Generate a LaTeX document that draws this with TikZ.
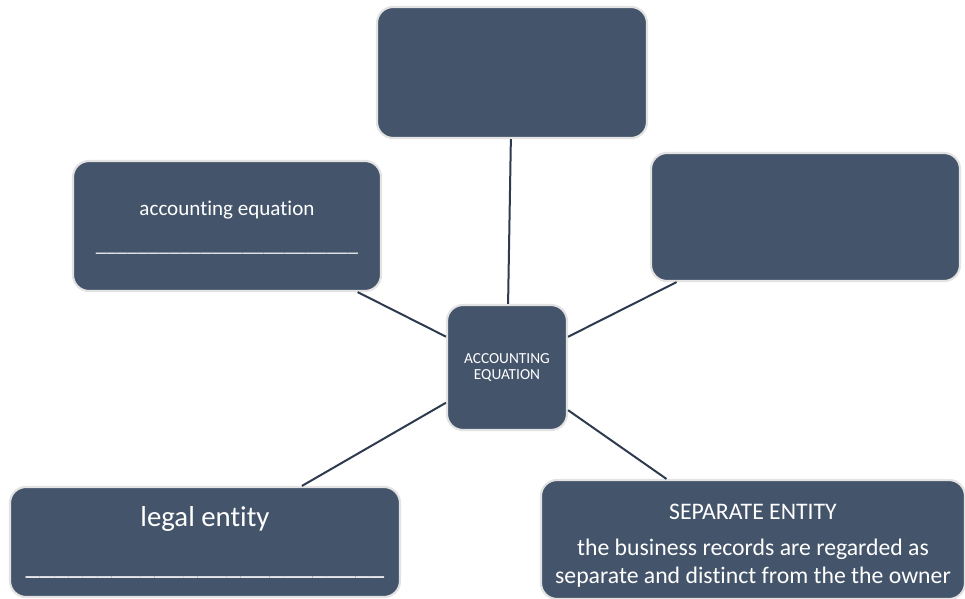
\documentclass[tikz,border=0pt]{standalone}
\usepackage{fontspec}
\setmainfont{Carlito}[Ligatures=NoCommon]
\usepackage{tikz}
\usetikzlibrary{positioning}

\definecolor{slate}{HTML}{44546A}
\definecolor{edgegray}{HTML}{E3E3E3}
\definecolor{linkdark}{HTML}{2E3A4E}

\begin{document}
\begin{tikzpicture}[
    x=0.75pt, y=-0.75pt,
    box/.style={draw=edgegray, line width=1.6pt, rounded corners=12pt,
                fill=slate, text=white, align=center, inner sep=0pt},
    link/.style={draw=linkdark, line width=1.5pt},
]
    \useasboundingbox (0,0) rectangle (965,599);

    % Hub
    \node[box, minimum width=90pt, minimum height=93.75pt,
          font=\fontsize{11.5}{12.5}\selectfont] (hub) at (507,367.5)
          {ACCOUNTING\\EQUATION};

    % Outer boxes
    \node[box, minimum width=202.5pt, minimum height=98.25pt] (top) at (512,72.5) {};
    \node[box, minimum width=231pt, minimum height=97.5pt,
          font=\fontsize{15.8}{27}\selectfont] (eqn) at (227,226)
          {\rule{0pt}{14pt}accounting equation\\\_\_\_\_\_\_\_\_\_\_\_\_\_\_\_\_\_\_\_\_\_\_\_\_\_};
    \node[box, minimum width=231.75pt, minimum height=96pt] (right) at (805.5,217) {};
    \node[box, minimum width=292.5pt, minimum height=82.5pt,
          font=\fontsize{21.6}{36}\selectfont] (legal) at (205,542)
          {legal entity\\\_\_\_\_\_\_\_\_\_\_\_\_\_\_\_\_\_\_\_\_\_\_\_\_\_};
    \node[box, minimum width=318pt, minimum height=89.25pt,
          font=\fontsize{17.8}{20.5}\selectfont] (separate) at (753,539.5)
          {\rule{0pt}{21pt}SEPARATE ENTITY\\[6.5pt]the business records are regarded as\\separate and distinct from the the owner};

    % Links
    \draw[link] (top) -- (hub);
    \draw[link] (eqn) -- (hub);
    \draw[link] (right) -- (hub);
    \draw[link] (legal) -- (hub);
    \draw[link] (separate) -- (hub);
\end{tikzpicture}
\end{document}
